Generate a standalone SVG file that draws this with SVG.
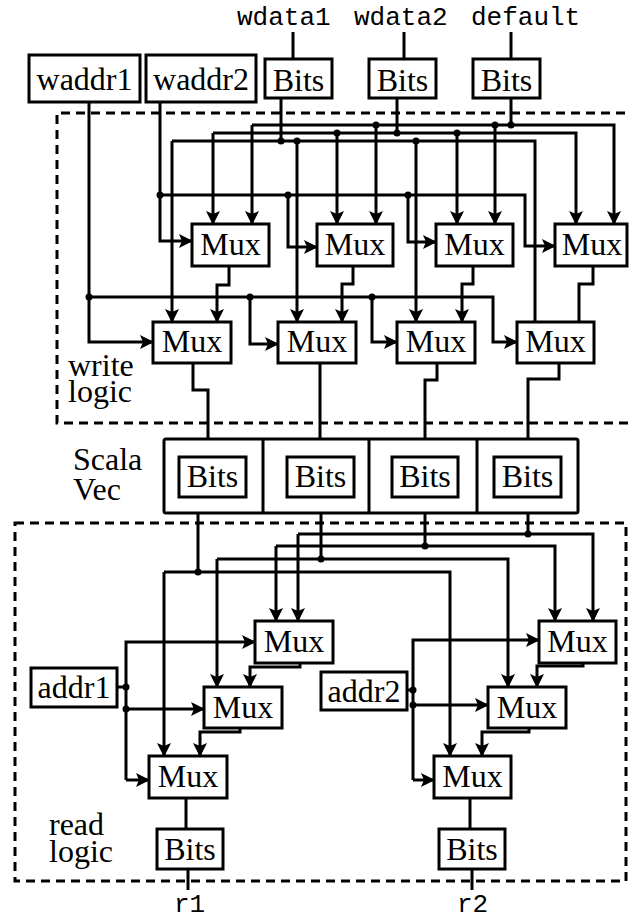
<svg xmlns="http://www.w3.org/2000/svg" width="631" height="921" viewBox="0 0 631 921">
<style>
.box{fill:#fff;stroke:#000;stroke-width:3}
.t{font-family:"Liberation Serif","Times New Roman",serif;font-size:32px;fill:#000;text-anchor:middle}
.tl{font-family:"Liberation Serif","Times New Roman",serif;font-size:32px;fill:#000}
.m{font-family:"Liberation Mono","Courier New",monospace;font-size:26px;fill:#000}
.w{fill:none;stroke:#000;stroke-width:3}
.a{fill:none;stroke:#000;stroke-width:3;marker-end:url(#arr)}
.dash{fill:none;stroke:#000;stroke-width:3;stroke-dasharray:9 6}
.dot{fill:#000}
</style>
<defs>
<marker id="arr" markerUnits="userSpaceOnUse" markerWidth="14" markerHeight="14" viewBox="0 0 14 14" refX="13" refY="7" orient="auto">
<path d="M0,0 L14,7 L0,14 L3,7 z" fill="#000"/>
</marker>
</defs>
<rect width="631" height="921" fill="#fff"/>

<g id="regions">
<path class="dash" d="M640 113 H57 V423 H640"/>
<rect class="dash" x="15" y="523" width="611" height="358"/>
</g>

<g id="labels">
<text class="m" x="237" y="25">wdata1</text>
<text class="m" x="354" y="25">wdata2</text>
<text class="m" x="471" y="25">default</text>
<text class="tl" x="68" y="376">write<tspan x="68" y="402">logic</tspan></text>
<text class="tl" x="73" y="470">Scala<tspan x="73" y="500">Vec</tspan></text>
<text class="tl" x="49" y="835">read<tspan x="49" y="862">logic</tspan></text>
<text class="m" x="174" y="912">r1</text>
<text class="m" x="457" y="912">r2</text>
</g>

<g id="connectors">
<path class="w" d="M293 32 V59"/>
<path class="w" d="M404 32 V59"/>
<path class="w" d="M511 32 V59"/>
<path class="a" d="M89 102 V342 H153"/>
<path class="a" d="M89 297 H493 V342 H517"/>
<path class="a" d="M250 297 V344 H278"/>
<path class="a" d="M372 297 V342 H397"/>
<path class="a" d="M160 102 V241 H192"/>
<path class="a" d="M160 195 H525 V246 H555"/>
<path class="a" d="M288 195 V247 H317"/>
<path class="a" d="M408 195 V242 H436"/>
<path class="w" d="M281 98 V141"/>
<path class="a" d="M172 141 V322"/>
<path class="w" d="M172 141 H535 V322"/>
<path class="a" d="M297 141 V322"/>
<path class="a" d="M416 141 V322"/>
<path class="w" d="M397 98 V133"/>
<path class="a" d="M213 133 V224"/>
<path class="a" d="M213 133 H576 V224"/>
<path class="a" d="M337 133 V224"/>
<path class="a" d="M457 133 V224"/>
<path class="w" d="M511 98 V125"/>
<path class="a" d="M252 125 V224"/>
<path class="a" d="M252 125 H614 V224"/>
<path class="a" d="M376 125 V224"/>
<path class="a" d="M495 125 V224"/>
<path class="a" d="M229 266 V285 H217 V322"/>
<path class="a" d="M353 266 V284 H342 V322"/>
<path class="a" d="M473 266 V284 H462 V322"/>
<path class="w" d="M593 266 V284 H579 V322"/>
<path class="w" d="M193 363 V390 H208 V457"/>
<path class="w" d="M320 363 V457"/>
<path class="w" d="M437 363 V380 H425 V457"/>
<path class="w" d="M559 363 V379 H528 V457"/>
<path class="w" d="M198 497 V572"/>
<path class="w" d="M321 497 V559"/>
<path class="w" d="M425 497 V546"/>
<path class="w" d="M528 497 V534"/>
<path class="a" d="M164 572 V756"/>
<path class="a" d="M164 572 H450 V756"/>
<path class="a" d="M217 559 V687"/>
<path class="a" d="M217 559 H508 V687"/>
<path class="a" d="M276 546 V621"/>
<path class="a" d="M276 546 H555 V621"/>
<path class="a" d="M298 534 V621"/>
<path class="a" d="M298 534 H593 V621"/>
<path class="a" d="M300 663 V667 H250 V687"/>
<path class="a" d="M240 728 V732 H200 V756"/>
<path class="w" d="M186 798 V829"/>
<path class="w" d="M188 869 V890"/>
<path class="a" d="M583 663 V666 H537 V687"/>
<path class="a" d="M529 728 V732 H482 V756"/>
<path class="w" d="M470 798 V829"/>
<path class="w" d="M472 869 V890"/>
<path class="w" d="M117 687 H126"/>
<path class="a" d="M126 780 V642 H255"/>
<path class="a" d="M126 780 H149"/>
<path class="a" d="M126 709 H204"/>
<path class="w" d="M407 690 H413"/>
<path class="a" d="M413 780 V640 H539"/>
<path class="a" d="M413 780 H434"/>
<path class="a" d="M413 705 H488"/>
<circle class="dot" cx="89" cy="297" r="3.5"/>
<circle class="dot" cx="250" cy="297" r="3.5"/>
<circle class="dot" cx="372" cy="297" r="3.5"/>
<circle class="dot" cx="160" cy="195" r="3.5"/>
<circle class="dot" cx="288" cy="195" r="3.5"/>
<circle class="dot" cx="408" cy="195" r="3.5"/>
<circle class="dot" cx="281" cy="141" r="3.5"/>
<circle class="dot" cx="297" cy="141" r="3.5"/>
<circle class="dot" cx="416" cy="141" r="3.5"/>
<circle class="dot" cx="397" cy="133" r="3.5"/>
<circle class="dot" cx="337" cy="133" r="3.5"/>
<circle class="dot" cx="457" cy="133" r="3.5"/>
<circle class="dot" cx="511" cy="125" r="3.5"/>
<circle class="dot" cx="376" cy="125" r="3.5"/>
<circle class="dot" cx="495" cy="125" r="3.5"/>
<circle class="dot" cx="198" cy="572" r="3.5"/>
<circle class="dot" cx="321" cy="559" r="3.5"/>
<circle class="dot" cx="425" cy="546" r="3.5"/>
<circle class="dot" cx="528" cy="534" r="3.5"/>
<circle class="dot" cx="126" cy="687" r="3.5"/>
<circle class="dot" cx="126" cy="709" r="3.5"/>
<circle class="dot" cx="413" cy="690" r="3.5"/>
<circle class="dot" cx="413" cy="705" r="3.5"/>
</g>

<g id="waddr1"><rect class="box" x="29" y="55" width="111" height="47"/><text class="t" x="84.5" y="90">waddr1</text></g>
<g id="waddr2"><rect class="box" x="146" y="55" width="110" height="47"/><text class="t" x="201" y="90">waddr2</text></g>
<g id="bits-wdata1"><rect class="box" x="265" y="59" width="67" height="39"/><text class="t" x="298.5" y="91">Bits</text></g>
<g id="bits-wdata2"><rect class="box" x="369" y="59" width="67" height="39"/><text class="t" x="402.5" y="91">Bits</text></g>
<g id="bits-default"><rect class="box" x="473" y="59" width="67" height="39"/><text class="t" x="506.5" y="91">Bits</text></g>

<g id="mux-a1"><rect class="box" x="192" y="224" width="77" height="42"/><text class="t" x="230.5" y="255">Mux</text></g>
<g id="mux-a2"><rect class="box" x="317" y="224" width="76" height="42"/><text class="t" x="355" y="255">Mux</text></g>
<g id="mux-a3"><rect class="box" x="436" y="224" width="77" height="42"/><text class="t" x="474.5" y="255">Mux</text></g>
<g id="mux-a4"><rect class="box" x="555" y="224" width="72" height="42"/><text class="t" x="592" y="255">Mux</text></g>

<g id="mux-b1"><rect class="box" x="153" y="322" width="78" height="41"/><text class="t" x="192" y="352">Mux</text></g>
<g id="mux-b2"><rect class="box" x="278" y="322" width="78" height="41"/><text class="t" x="317" y="352">Mux</text></g>
<g id="mux-b3"><rect class="box" x="397" y="322" width="78" height="41"/><text class="t" x="436" y="352">Mux</text></g>
<g id="mux-b4"><rect class="box" x="517" y="322" width="77" height="41"/><text class="t" x="555.5" y="352">Mux</text></g>

<g id="scala-vec">
<rect class="box" x="164" y="439" width="414" height="74" rx="2"/>
<path class="w" d="M263 439 V513 M369 439 V513 M477 439 V513"/>
</g>
<g id="vec-bits1"><rect class="box" x="179" y="457" width="67" height="40"/><text class="t" x="212.5" y="487">Bits</text></g>
<g id="vec-bits2"><rect class="box" x="287" y="457" width="67" height="40"/><text class="t" x="320.5" y="487">Bits</text></g>
<g id="vec-bits3"><rect class="box" x="392" y="457" width="66" height="40"/><text class="t" x="425" y="487">Bits</text></g>
<g id="vec-bits4"><rect class="box" x="494" y="457" width="67" height="40"/><text class="t" x="527.5" y="487">Bits</text></g>

<g id="addr1"><rect class="box" x="31" y="668" width="86" height="39"/><text class="t" x="74" y="698">addr1</text></g>
<g id="mux-r1a"><rect class="box" x="255" y="621" width="78" height="42"/><text class="t" x="294" y="652">Mux</text></g>
<g id="mux-r1b"><rect class="box" x="204" y="687" width="78" height="41"/><text class="t" x="243" y="718">Mux</text></g>
<g id="mux-r1c"><rect class="box" x="149" y="756" width="78" height="42"/><text class="t" x="188" y="787">Mux</text></g>
<g id="bits-r1"><rect class="box" x="157" y="829" width="66" height="40"/><text class="t" x="190" y="860">Bits</text></g>

<g id="addr2"><rect class="box" x="321" y="672" width="86" height="38"/><text class="t" x="364" y="702">addr2</text></g>
<g id="mux-r2a"><rect class="box" x="539" y="621" width="77" height="42"/><text class="t" x="577.5" y="652">Mux</text></g>
<g id="mux-r2b"><rect class="box" x="488" y="687" width="78" height="41"/><text class="t" x="527" y="718">Mux</text></g>
<g id="mux-r2c"><rect class="box" x="434" y="756" width="77" height="42"/><text class="t" x="472.5" y="787">Mux</text></g>
<g id="bits-r2"><rect class="box" x="439" y="829" width="66" height="40"/><text class="t" x="472" y="860">Bits</text></g>
</svg>
